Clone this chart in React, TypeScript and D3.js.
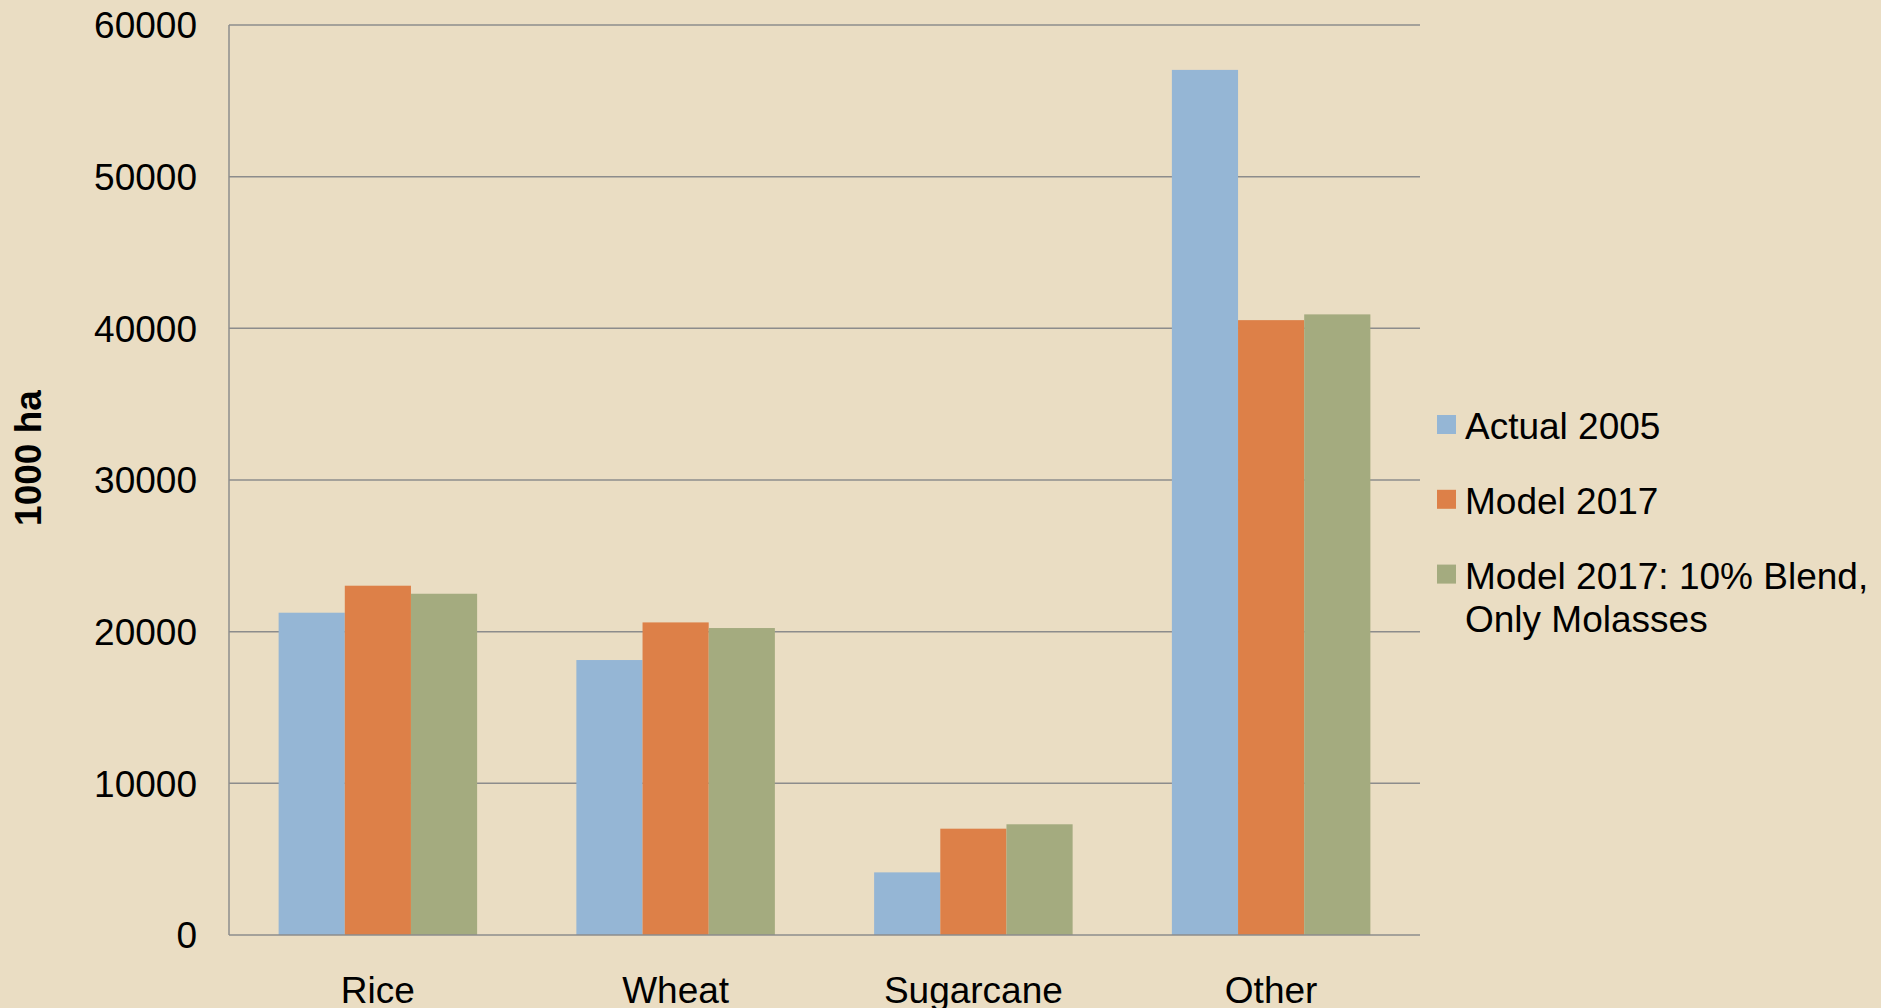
import React from "react";
import * as d3 from "d3";

const categories = ["Rice", "Wheat", "Sugarcane", "Other"];
const seriesNames = ["Actual 2005", "Model 2017", "Model 2017: 10% Blend, Only Molasses"];
const actual2005 = [21250, 18130, 4130, 57040];
const model2017 = [23030, 20610, 7010, 40540];
const model2017Blend = [22500, 20240, 7300, 40920];
const yTicks = [0, 10000, 20000, 30000, 40000, 50000, 60000];
const colors = ["#95B6D5", "#DD8048", "#A4AB7F"];
const legendLines = [["Actual 2005"], ["Model 2017"], ["Model 2017: 10% Blend,", "Only Molasses"]];

const W = 1881;
const H = 1008;
const left = 229;
const right = 1420;
const top = 25;
const bottom = 935;
const FONT = "'Liberation Sans', Arial, sans-serif";

export default function App() {
  const series = [actual2005, model2017, model2017Blend];
  const x = d3.scaleBand<string>().domain(categories).range([left, right]).paddingInner(0).paddingOuter(0);
  const y = d3.scaleLinear().domain([0, 60000]).range([bottom, top]);
  const bw = x.bandwidth() / 4.5;
  const x1 = d3
    .scaleBand<number>()
    .domain(d3.range(series.length))
    .range([x.bandwidth() / 2 - 1.5 * bw, x.bandwidth() / 2 + 1.5 * bw]);

  return (
    <svg
      width={W}
      height={H}
      style={{ position: "absolute", left: 0, top: 0, display: "block" }}
      fontFamily={FONT}
    >
      <rect x={0} y={0} width={W} height={H} fill="#EADDC3" />
      {yTicks.map((t) => (
        <g key={t}>
          {t !== 0 && (
            <line x1={left} x2={right} y1={y(t)} y2={y(t)} stroke="#8C8C8C" strokeWidth={1.5} />
          )}
          <text x={197} y={y(t)} dy="0.36em" textAnchor="end" fontSize={37} fill="#000">
            {t}
          </text>
        </g>
      ))}
      {categories.map((c, ci) =>
        series.map((s, si) => (
          <rect
            key={c + si}
            x={(x(c) as number) + (x1(si) as number)}
            y={y(s[ci])}
            width={x1.bandwidth()}
            height={y(0) - y(s[ci])}
            fill={colors[si]}
          />
        ))
      )}
      <line x1={left} x2={left} y1={top} y2={bottom} stroke="#8C8C8C" strokeWidth={1.5} />
      <line x1={left} x2={right} y1={bottom} y2={bottom} stroke="#8C8C8C" strokeWidth={1.5} />
      {categories.map((c) => (
        <text
          key={c}
          x={(x(c) as number) + x.bandwidth() / 2}
          y={1003}
          textAnchor="middle"
          fontSize={37}
          fill="#000"
        >
          {c}
        </text>
      ))}
      <text
        transform={`translate(41,458) rotate(-90)`}
        textAnchor="middle"
        fontSize={37}
        fontWeight="bold"
        fill="#000"
      >
        1000 ha
      </text>
      {seriesNames.map((n, i) => {
        const cy = 424.5 + i * 74.8;
        return (
          <g key={n}>
            <rect x={1437} y={cy - 9.5} width={19} height={19} fill={colors[i]} />
            {legendLines[i].map((ln, li) => (
              <text key={li} x={1465} y={cy + 14.5 + li * 43.5} fontSize={37} fill="#000">
                {ln}
              </text>
            ))}
          </g>
        );
      })}
    </svg>
  );
}
